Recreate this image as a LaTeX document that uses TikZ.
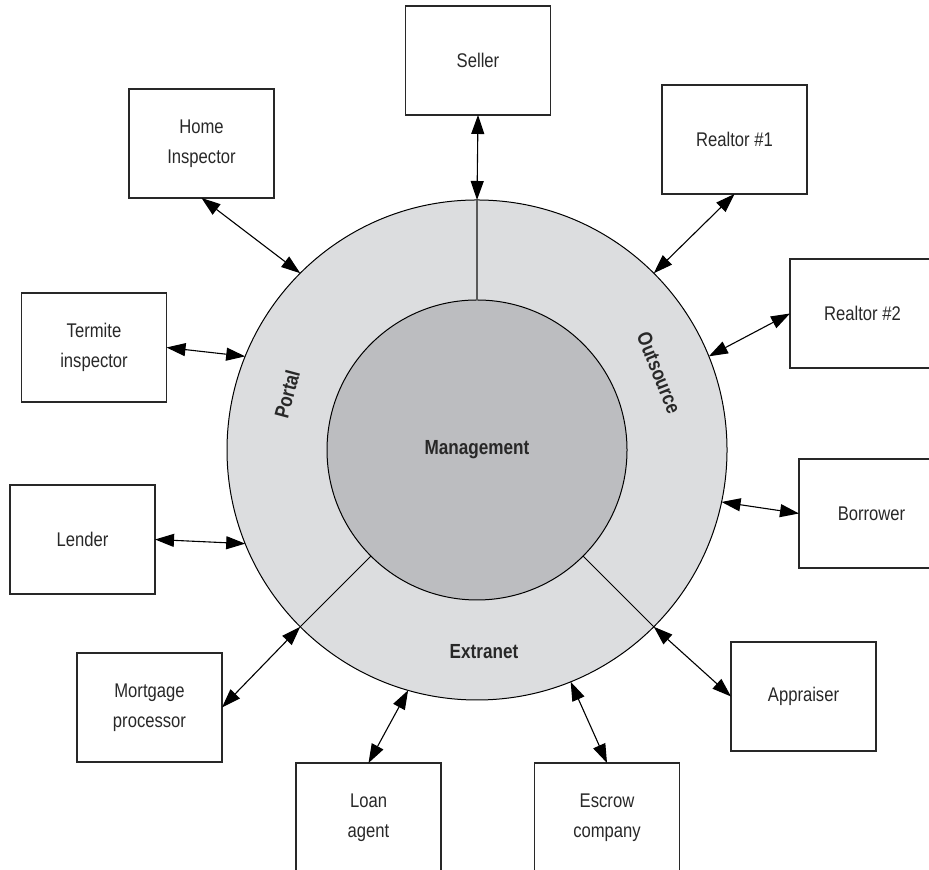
\documentclass[tikz,border=0pt]{standalone}
\usepackage{fontspec}
\setmainfont[FakeStretch=0.84]{Liberation Sans}
\newfontfamily\widesans{Liberation Sans}
\newcommand{\turnedlabel}[1]{\scalebox{0.84}[1]{\widesans\bfseries #1}}
\usetikzlibrary{arrows.meta}
\definecolor{ringgrey}{RGB}{220,221,223}
\definecolor{coregrey}{RGB}{188,189,192}
\definecolor{inkgrey}{RGB}{40,40,40}
\tikzset{
  party/.style={draw=inkgrey, line width=0.6pt, minimum width=72.5pt, minimum height=54.5pt,
    inner sep=0pt, outer sep=0pt, align=center, text=inkgrey, font=\fontsize{9.9}{15}\selectfont},
  zone/.style={text=inkgrey, font=\fontsize{10.2}{12}\selectfont\bfseries},
  link/.style={{Triangle[length=9.5pt,width=6.5pt]}-{Triangle[length=9.5pt,width=6.5pt]}, line width=0.55pt},
}
\begin{document}
\begin{tikzpicture}[x=0.5pt, y=0.5pt]
   \useasboundingbox (0,0) rectangle (929,870);
   % rings
   \node[circle, draw, fill=ringgrey, line width=0.5pt, minimum size=250pt, inner sep=0pt, outer sep=0pt] (ring) at (477,420) {};
   \node[circle, draw, fill=coregrey, line width=0.5pt, minimum size=150pt, inner sep=0pt, outer sep=0pt, zone] (core) at (477,420) {Management};
   \draw[draw=black!65, line width=0.7pt] (core.90) -- (ring.90);
   \draw[line width=0.5pt] (core.225) -- (ring.225);
   \draw[line width=0.5pt] (core.315) -- (ring.315);
   \node[zone, rotate=75] (portal) at (287,476) {\turnedlabel{Portal}};
   \node[zone, rotate=-68] (outsource) at (659,497) {\turnedlabel{Outsource}};
   \node[zone] (extranet) at (484,218) {Extranet};
   % parties
   \node[party] (seller) at (478,809.5) {Seller};
   \node[party] (home) at (201.5,726.5) {Home\\Inspector};
   \node[party] (realtorA) at (734.5,730.5) {Realtor \#1};
   \node[party] (realtorB) at (862.5,556.5) {Realtor \#2};
   \node[party] (termite) at (94,522.5) {Termite\\inspector};
   \node[party] (lender) at (82.5,330.5) {Lender};
   \node[party] (borrower) at (871.5,356.5) {Borrower};
   \node[party] (appraiser) at (803.5,173.5) {Appraiser};
   \node[party] (mortgage) at (149.5,162.5) {Mortgage\\processor};
   \node[party] (loan) at (368.5,52.5) {Loan\\agent};
   \node[party] (escrow) at (607,52.5) {Escrow\\company};
   % links
   \draw[link] (seller.south) -- (ring.90);
   \draw[link] (home.south) -- (ring.135);
   \draw[link] (realtorA.south) -- (ring.45);
   \draw[link] (realtorB.west) -- (ring.22);
   \draw[link] (termite.east) -- (ring.158);
   \draw[link] (lender.east) -- (ring.202);
   \draw[link] (borrower.west) -- (ring.348.5);
   \draw[link] (appraiser.west) -- (ring.315);
   \draw[link] (mortgage.east) -- (ring.225);
   \draw[link] (loan.north) -- (ring.254);
   \draw[link] (escrow.north) -- (ring.292);
\end{tikzpicture}
\end{document}
